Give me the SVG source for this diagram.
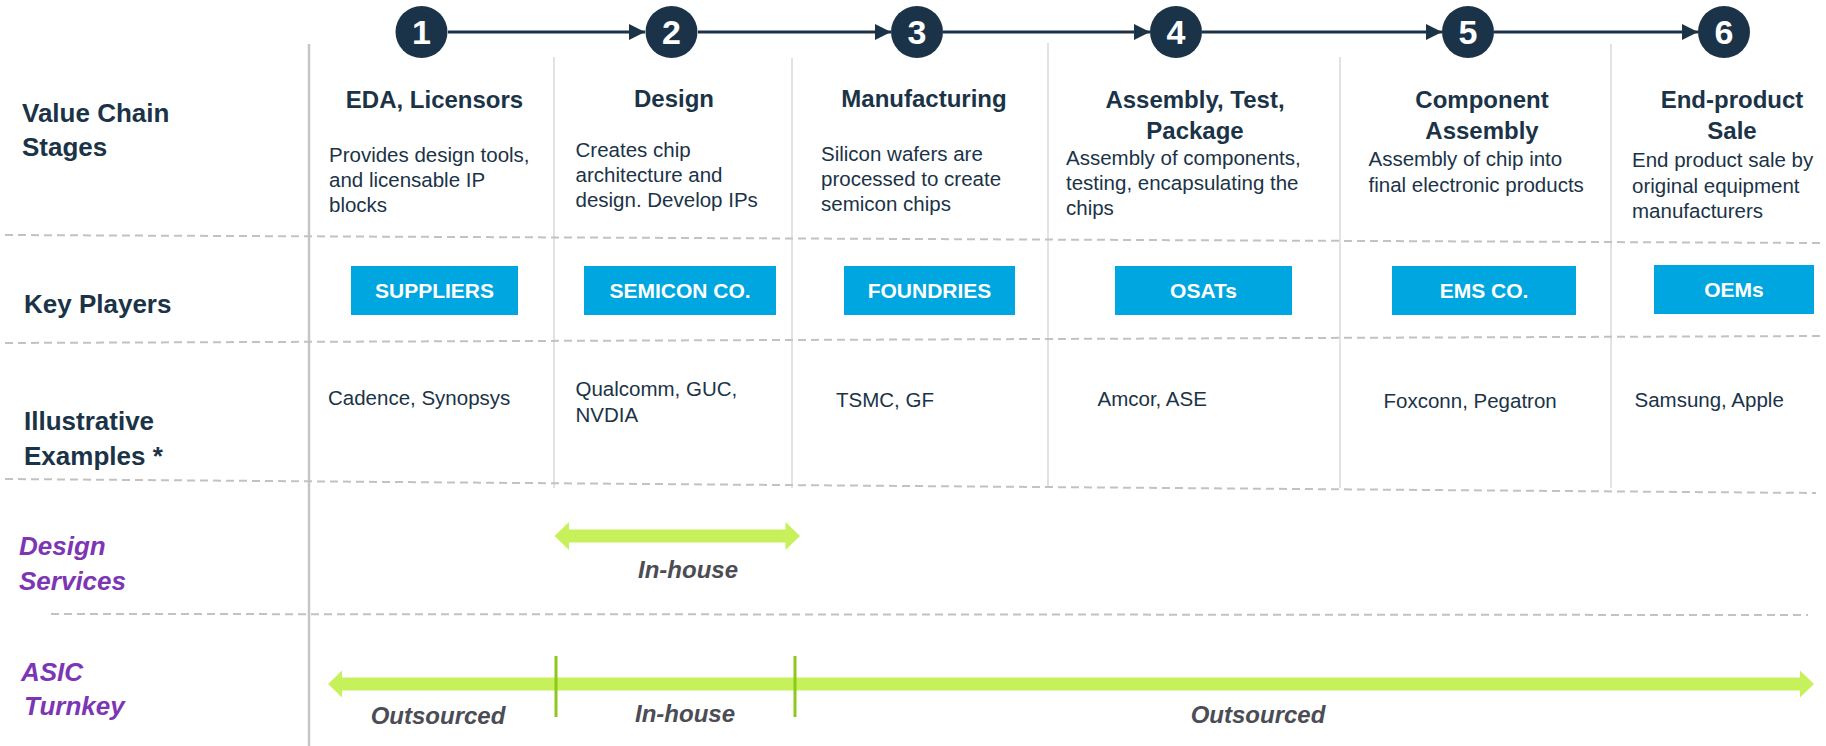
<svg xmlns="http://www.w3.org/2000/svg" width="1826" height="746" viewBox="0 0 1826 746">
<defs>
<style>
text{font-family:"Liberation Sans",Arial,sans-serif;}
.row{font-size:26px;font-weight:bold;fill:#1b3347;}
.svc{font-size:26px;font-weight:bold;font-style:italic;fill:#7d36b3;}
.hdr{font-size:24px;font-weight:bold;fill:#1b3347;text-anchor:middle;}
.body{font-size:20.5px;fill:#1b3347;}
.num{font-size:34px;font-weight:bold;fill:#ffffff;text-anchor:middle;}
.box{fill:#00a6df;}
.boxt{font-size:21px;font-weight:bold;fill:#ffffff;text-anchor:middle;}
.lbl{font-size:24px;font-weight:bold;font-style:italic;fill:#4b4c54;text-anchor:middle;}
.dash{stroke:#c2c2c2;stroke-width:2;stroke-dasharray:8 5;fill:none;}
.sep{stroke:#e2e2e2;stroke-width:2;}
.main{stroke:#c6c6c6;stroke-width:2.5;}
.circ{fill:#1a3349;}
.conn{stroke:#1a3349;stroke-width:3;fill:none;}
.green{fill:#c6f15b;}
.tick{stroke:#8cc91a;stroke-width:3;}
</style>
<marker id="ah" markerUnits="userSpaceOnUse" markerWidth="16" markerHeight="16" refX="16" refY="8" orient="auto">
<path d="M0,0 L16,8 L0,16 z" fill="#1a3349"/>
</marker>
</defs>
<rect width="1826" height="746" fill="#ffffff"/>

<g id="grid">
<line class="main" x1="309" y1="44" x2="309" y2="746"/>
<line class="sep" x1="554" y1="57" x2="554" y2="488"/>
<line class="sep" x1="792" y1="58" x2="792" y2="488"/>
<line class="sep" x1="1048" y1="43" x2="1048" y2="488"/>
<line class="sep" x1="1340" y1="57" x2="1340" y2="488"/>
<line class="sep" x1="1611" y1="44" x2="1611" y2="488"/>
<line class="dash" x1="5" y1="235" x2="1822" y2="243"/>
<line class="dash" x1="5" y1="343" x2="1822" y2="336"/>
<line class="dash" x1="5" y1="479" x2="1816" y2="493"/>
<line class="dash" x1="51" y1="614" x2="1808" y2="615"/>
</g>

<g id="connectors">
<line class="conn" x1="448" y1="32" x2="645" y2="32" marker-end="url(#ah)"/>
<line class="conn" x1="698" y1="32" x2="891" y2="32" marker-end="url(#ah)"/>
<line class="conn" x1="943" y1="32" x2="1150" y2="32" marker-end="url(#ah)"/>
<line class="conn" x1="1202" y1="32" x2="1442" y2="32" marker-end="url(#ah)"/>
<line class="conn" x1="1494" y1="32" x2="1698" y2="32" marker-end="url(#ah)"/>
</g>

<g id="row-labels">
<text class="row" x="22" y="122">Value Chain</text>
<text class="row" x="22" y="156">Stages</text>
<text class="row" x="24" y="313">Key Players</text>
<text class="row" x="24" y="430">Illustrative</text>
<text class="row" x="24" y="465">Examples *</text>
<text class="svc" x="19" y="555">Design</text>
<text class="svc" x="19" y="590">Services</text>
<text class="svc" x="21" y="681">ASIC</text>
<text class="svc" x="24" y="715">Turnkey</text>
</g>

<g id="stage1">
<circle class="circ" cx="421.5" cy="32" r="26"/>
<text class="num" x="421.5" y="44">1</text>
<text class="hdr" x="434.5" y="108">EDA, Licensors</text>
<text class="body" x="329" y="162">Provides design tools,</text>
<text class="body" x="329" y="187">and licensable IP</text>
<text class="body" x="329" y="212">blocks</text>
<rect class="box" x="351" y="266" width="167" height="49"/>
<text class="boxt" x="434.5" y="298">SUPPLIERS</text>
<text class="body" x="328" y="405">Cadence, Synopsys</text>
</g>

<g id="stage2">
<circle class="circ" cx="671.5" cy="32" r="26"/>
<text class="num" x="671.5" y="44">2</text>
<text class="hdr" x="674" y="107">Design</text>
<text class="body" x="575.5" y="157">Creates chip</text>
<text class="body" x="575.5" y="182">architecture and</text>
<text class="body" x="575.5" y="207">design. Develop IPs</text>
<rect class="box" x="584" y="266" width="192" height="49"/>
<text class="boxt" x="680" y="298">SEMICON CO.</text>
<text class="body" x="575.5" y="396">Qualcomm, GUC,</text>
<text class="body" x="575.5" y="422">NVDIA</text>
</g>

<g id="stage3">
<circle class="circ" cx="917" cy="32" r="26"/>
<text class="num" x="917" y="44">3</text>
<text class="hdr" x="924" y="107">Manufacturing</text>
<text class="body" x="821" y="161">Silicon wafers are</text>
<text class="body" x="821" y="186">processed to create</text>
<text class="body" x="821" y="211">semicon chips</text>
<rect class="box" x="844" y="266" width="171" height="49"/>
<text class="boxt" x="929.5" y="298">FOUNDRIES</text>
<text class="body" x="836" y="407">TSMC, GF</text>
</g>

<g id="stage4">
<circle class="circ" cx="1176" cy="32" r="26"/>
<text class="num" x="1176" y="44">4</text>
<text class="hdr" x="1195" y="108">Assembly, Test,</text>
<text class="hdr" x="1195" y="139">Package</text>
<text class="body" x="1066" y="165">Assembly of components,</text>
<text class="body" x="1066" y="190">testing, encapsulating the</text>
<text class="body" x="1066" y="215">chips</text>
<rect class="box" x="1115" y="266" width="177" height="49"/>
<text class="boxt" x="1203.5" y="298">OSATs</text>
<text class="body" x="1097.5" y="406">Amcor, ASE</text>
</g>

<g id="stage5">
<circle class="circ" cx="1468" cy="32" r="26"/>
<text class="num" x="1468" y="44">5</text>
<text class="hdr" x="1482" y="108">Component</text>
<text class="hdr" x="1482" y="139">Assembly</text>
<text class="body" x="1368.5" y="166">Assembly of chip into</text>
<text class="body" x="1368.5" y="192">final electronic products</text>
<rect class="box" x="1392" y="266" width="184" height="49"/>
<text class="boxt" x="1484" y="298">EMS CO.</text>
<text class="body" x="1383.5" y="408">Foxconn, Pegatron</text>
</g>

<g id="stage6">
<circle class="circ" cx="1724" cy="32" r="26"/>
<text class="num" x="1724" y="44">6</text>
<text class="hdr" x="1732" y="108">End-product</text>
<text class="hdr" x="1732" y="139">Sale</text>
<text class="body" x="1632" y="167">End product sale by</text>
<text class="body" x="1632" y="193">original equipment</text>
<text class="body" x="1632" y="218">manufacturers</text>
<rect class="box" x="1654" y="265" width="160" height="49"/>
<text class="boxt" x="1734" y="297">OEMs</text>
<text class="body" x="1634.5" y="407">Samsung, Apple</text>
</g>

<g id="design-services">
<polygon class="green" points="554.5,536 569,522 569,529.5 785.5,529.5 785.5,522 800,536 785.5,550 785.5,542.5 569,542.5 569,550"/>
<text class="lbl" x="688" y="578">In-house</text>
</g>

<g id="asic-turnkey">
<polygon class="green" points="328,684 342,670.5 342,677.5 1800,677.5 1800,670.5 1814,684 1800,697.5 1800,690.5 342,690.5 342,697.5"/>
<line class="tick" x1="556" y1="656" x2="556" y2="717"/>
<line class="tick" x1="795" y1="656" x2="795" y2="717"/>
<text class="lbl" x="438" y="724">Outsourced</text>
<text class="lbl" x="685" y="722">In-house</text>
<text class="lbl" x="1258" y="723">Outsourced</text>
</g>
</svg>
